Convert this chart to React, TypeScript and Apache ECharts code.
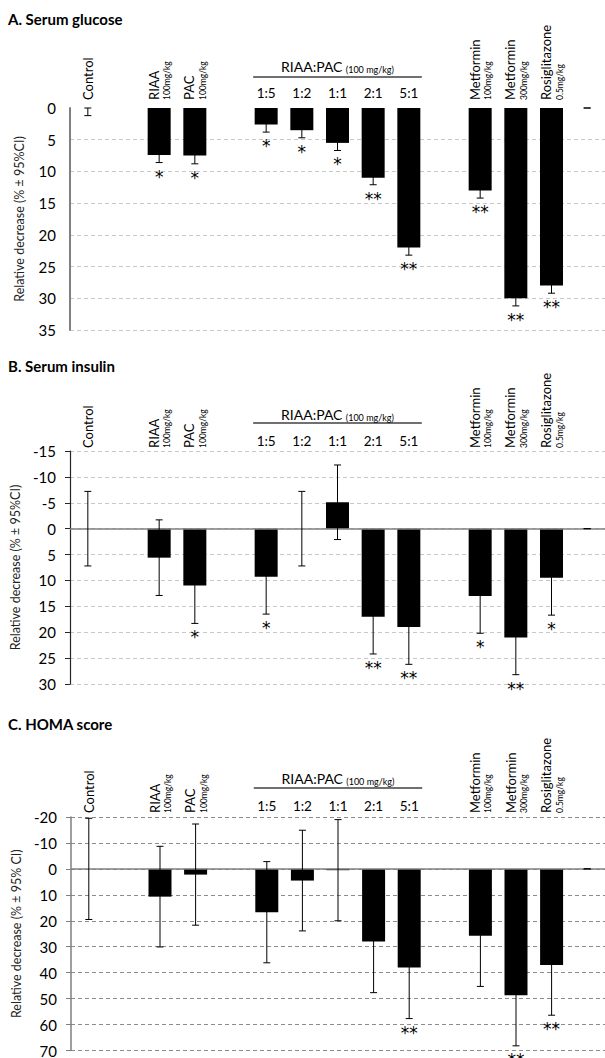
import React, { useEffect, useRef } from "react";
import * as echarts from "echarts";

// ---------- data ----------
const categoryKeys = [
  "Control", "gap1", "RIAA", "PAC", "gap2",
  "1:5", "1:2", "1:1", "2:1", "5:1", "gap3",
  "Metformin100", "Metformin300", "Rosiglitazone", "end",
];
const drugLabels = [
  "Control", "", "RIAA", "PAC", "", "", "", "", "", "", "",
  "Metformin", "Metformin", "Rosiglitazone", "",
];
const doseLabels = [
  "", "", "100mg/kg", "100mg/kg", "", "", "", "", "", "", "",
  "100mg/kg", "300mg/kg", "0.5mg/kg", "",
];
const ratioLabels = ["", "", "", "", "", "1:5", "1:2", "1:1", "2:1", "5:1", "", "", "", "", ""];
const groupTitle = "RIAA:PAC";
const groupDose = "(100 mg/kg)";
const groupRange = [5, 9];

const glucoseMean = [0, null, 7.4, 7.5, null, 2.6, 3.5, 5.5, 11, 22, null, 13, 30, 28, 0];
const glucoseCI = [1.2, null, 1.2, 1.3, null, 1.2, 1.2, 1.2, 1.1, 1.2, null, 1.2, 1.2, 1.2, 0];
const glucoseStars = ["", "", "*", "*", "", "*", "*", "*", "**", "**", "", "**", "**", "**", ""];

const insulinMean = [0, null, 5.6, 11, null, 9.3, 0, -5.1, 17, 19, null, 13, 21, 9.5, 0];
const insulinCI = [7.2, null, 7.3, 7.3, null, 7.2, 7.2, 7.2, 7.2, 7.2, null, 7.2, 7.2, 7.2, 0];
const insulinStars = ["", "", "", "*", "", "*", "", "", "**", "**", "", "*", "**", "*", ""];

const homaMean = [0, null, 10.7, 2.2, null, 16.7, 4.5, 0.5, 28, 38, null, 25.8, 48.7, 37, 0];
const homaCI = [19.5, null, 19.4, 19.5, null, 19.5, 19.4, 19.5, 19.7, 19.7, null, 19.5, 19.5, 19.4, 0];
const homaStars = ["", "", "", "", "", "", "", "", "", "**", "", "", "**", "**", ""];

const FONT = "Lato, 'Open Sans', sans-serif";

const panels = [
  {
    title: "A. Serum glucose", titleTop: 11, left: 70, top: 108, height: 222,
    yMin: 0, yMax: 35, yInterval: 5, yName: "Relative decrease (% ± 95%CI)",
    mean: glucoseMean, ci: glucoseCI, stars: glucoseStars,
    labelMargin: 8, lineOff: 31, textOff: 43, zeroLine: false,
    axisColor: "#808080", axisWidth: 2, ticks: false, gridColor: "#c8c8c8", showMin: false,
  },
  {
    title: "B. Serum insulin", titleTop: 358, left: 70, top: 451, height: 233,
    yMin: -15, yMax: 30, yInterval: 5, yName: "Relative decrease (% ± 95%CI)",
    mean: insulinMean, ci: insulinCI, stars: insulinStars,
    labelMargin: 3, lineOff: 28, textOff: 38, zeroLine: true,
    axisColor: "#262626", axisWidth: 1.2, ticks: true, gridColor: "#c8c8c8", showMin: true,
  },
  {
    title: "C. HOMA score", titleTop: 716, left: 71, top: 817, height: 235,
    yMin: -20, yMax: 70, yInterval: 10, yName: "Relative decrease (% ± 95% CI)",
    mean: homaMean, ci: homaCI, stars: homaStars,
    labelMargin: 4, lineOff: 29, textOff: 40, zeroLine: true,
    axisColor: "#7f7f7f", axisWidth: 1.5, ticks: true, gridColor: "#8c8c8c", showMin: true,
  },
];

function buildOption(): any {
  const option: any = {
    animation: false,
    title: panels.map((p) => ({
      text: p.title, left: 8, top: p.titleTop, padding: 0,
      textStyle: { fontFamily: FONT, fontSize: 15, fontWeight: "bold", color: "#000" },
    })),
    grid: panels.map((p) => ({ left: p.left, top: p.top, width: 537, height: p.height })),
    xAxis: [], yAxis: [], series: [],
  };
  panels.forEach((p, i) => {
    option.xAxis.push({
      type: "category", gridIndex: i, position: "top", data: categoryKeys,
      axisLine: { show: false, onZero: false }, axisTick: { show: false }, splitLine: { show: false },
      axisLabel: {
        interval: 0, rotate: -90, margin: p.labelMargin,
        formatter: (_v: string, idx: number) => {
          const d = drugLabels[idx];
          if (!d) return "";
          const s = doseLabels[idx];
          return s ? `{m|${d}}\n{s|${s}}` : `{m|${d}}`;
        },
        rich: {
          m: { fontFamily: FONT, fontSize: 13, lineHeight: 16, color: "#000" },
          s: { fontFamily: FONT, fontSize: 8.5, lineHeight: 11, color: "#000" },
        },
      },
    });
    option.xAxis.push({
      type: "category", gridIndex: i, position: "top", data: categoryKeys,
      axisLine: { show: false, onZero: false }, axisTick: { show: false }, splitLine: { show: false },
      axisLabel: {
        interval: 0, margin: p.labelMargin,
        formatter: (_v: string, idx: number) => ratioLabels[idx],
        fontFamily: FONT, fontSize: 13.5, color: "#000",
      },
    });
    option.yAxis.push({
      type: "value", gridIndex: i, inverse: true, min: p.yMin, max: p.yMax, interval: p.yInterval,
      axisLine: { show: true, onZero: false, lineStyle: { color: p.axisColor, width: p.axisWidth } },
      axisTick: { show: p.ticks, length: 5, lineStyle: { color: p.axisColor, width: 1 } },
      axisLabel: { margin: 14, fontFamily: FONT, fontSize: 15, color: "#000" },
      splitLine: {
        show: true, showMinLine: p.showMin,
        lineStyle: { color: p.gridColor, type: [4, 3], width: 1 },
      },
      name: p.yName, nameLocation: "middle", nameGap: 44,
      nameTextStyle: { fontFamily: FONT, fontSize: 12.5, color: "#222" },
    });
    const bar: any = {
      type: "bar", xAxisIndex: 2 * i, yAxisIndex: i, barWidth: 23,
      data: p.mean.map((v) => (v === null ? "-" : v)),
      itemStyle: { color: "#000" }, z: 2,
    };
    if (p.zeroLine) {
      bar.markLine = {
        silent: true, symbol: "none", label: { show: false },
        lineStyle: { color: "#808080", type: "solid", width: 1.5 },
        data: [{ yAxis: 0 }],
      };
    }
    option.series.push(bar);
    const items: number[][] = [];
    p.mean.forEach((m, idx) => {
      if (m !== null) items.push([idx, m as number, p.ci[idx] as number]);
    });
    option.series.push({
      type: "custom", xAxisIndex: 2 * i, yAxisIndex: i, clip: false, z: 5,
      data: items,
      renderItem: (_params: any, api: any) => {
        const idx = api.value(0);
        const mean = api.value(1);
        const ci = api.value(2);
        const lo = Math.max(mean - ci, p.yMin);
        const hi = Math.min(mean + ci, p.yMax);
        const x = api.coord([idx, 0])[0];
        const yLo = api.coord([idx, lo])[1];
        const yHi = api.coord([idx, hi])[1];
        const st = { stroke: "#000", lineWidth: 1 };
        const children: any[] = [
          { type: "line", shape: { x1: x, y1: yLo, x2: x, y2: yHi }, style: st },
          { type: "line", shape: { x1: x - 3.5, y1: yLo, x2: x + 3.5, y2: yLo }, style: st },
          { type: "line", shape: { x1: x - 3.5, y1: yHi, x2: x + 3.5, y2: yHi }, style: st },
        ];
        const star = p.stars[idx];
        if (star) {
          children.push({
            type: "text", x, y: yHi + 14,
            style: {
              text: star, fill: "#000", fontFamily: "'DejaVu Sans', sans-serif", fontSize: 17,
              align: "center", verticalAlign: "middle",
            },
          });
        }
        return { type: "group", children };
      },
    });
    option.series.push({
      type: "custom", xAxisIndex: 2 * i, yAxisIndex: i, clip: false, z: 5,
      data: [groupRange],
      renderItem: (params: any, api: any) => {
        const x1 = api.coord([api.value(0), p.yMin])[0] - 13;
        const x2 = api.coord([api.value(1), p.yMin])[0] + 13;
        const top = params.coordSys.y;
        return {
          type: "group",
          children: [
            {
              type: "line", shape: { x1, y1: top - p.lineOff, x2, y2: top - p.lineOff },
              style: { stroke: "#404040", lineWidth: 1.5 },
            },
            {
              type: "text", x: (x1 + x2) / 2, y: top - p.textOff,
              style: {
                text: `{m|${groupTitle}} {s|${groupDose}}`,
                align: "center", verticalAlign: "middle",
                rich: {
                  m: { fontFamily: FONT, fontSize: 14, fill: "#000", lineHeight: 17, verticalAlign: "bottom" },
                  s: { fontFamily: FONT, fontSize: 9, fill: "#000", lineHeight: 15, verticalAlign: "bottom" },
                },
              },
            },
          ],
        };
      },
    });
  });
  return option;
}

export default function App() {
  const ref = useRef<HTMLDivElement>(null);
  useEffect(() => {
    if (!ref.current) return;
    const chart = echarts.init(ref.current, undefined, { renderer: "svg" });
    chart.setOption(buildOption());
    return () => chart.dispose();
  }, []);
  return (
    <div
      ref={ref}
      style={{ position: "absolute", left: 0, top: 0, width: 605, height: 1058, background: "#fff" }}
    />
  );
}
